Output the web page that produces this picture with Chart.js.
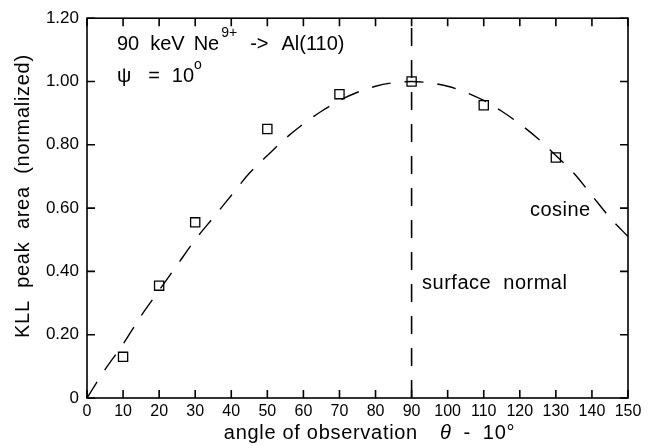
<!DOCTYPE html>
<html>
<head>
<meta charset="utf-8">
<script src="https://cdn.jsdelivr.net/npm/chart.js@4"></script>
<style>
  html, body { margin: 0; padding: 0; background: #fff; }
  #wrap { width: 653px; height: 446px; }
</style>
</head>
<body>
<div id="wrap"><canvas id="chart"></canvas></div>
<script>
// measured points
const angles = [10, 20, 30, 50, 70, 90, 110, 130];
const peakArea = [0.13, 0.355, 0.555, 0.85, 0.96, 1.00, 0.925, 0.76];

// dashed "cosine" curve
const curveAngles = [0, 5, 10, 15, 20, 25, 30, 35, 40, 45, 50, 55, 60, 65, 70, 75,
    80, 85, 90, 95, 100, 105, 110, 115, 120, 125, 130, 135, 140, 145, 150];
const curveValues = [0, 0.09, 0.17, 0.26, 0.34, 0.42, 0.50, 0.57, 0.64, 0.71, 0.766,
    0.82, 0.866, 0.906, 0.94, 0.966, 0.985, 0.996, 1.00, 0.996, 0.985, 0.966, 0.94,
    0.906, 0.866, 0.82, 0.766, 0.71, 0.64, 0.57, 0.51];

// surface normal line
const normalX = [90, 90];
const normalY = [0, 1.2];

const xTicks = [0, 10, 20, 30, 40, 50, 60, 70, 80, 90, 100, 110, 120, 130, 140, 150];
const yTicks = [0, 0.2, 0.4, 0.6, 0.8, 1.0, 1.2];
const yTickLabels = ["0", "0.20", "0.40", "0.60", "0.80", "1.00", "1.20"];

const FONT = "'Liberation Sans', Arial, Helvetica, sans-serif";

function toXY(xs, ys) {
    return xs.map((x, i) => ({ x: x, y: ys[i] }));
}

// draw pieces one after another, with a gap after each
function drawRun(ctx, parts, x, y) {
    parts.forEach(p => {
        ctx.font = p.font;
        ctx.fillText(p.text, x, y + (p.dy || 0));
        x += ctx.measureText(p.text).width + (p.gap || 0);
    });
    return x;
}

function runWidth(ctx, parts) {
    let w = 0;
    parts.forEach(p => {
        ctx.font = p.font;
        w += ctx.measureText(p.text).width + (p.gap || 0);
    });
    return w;
}

const frame = {
    id: "frame",
    afterDraw(chart) {
        const ctx = chart.ctx;
        const a = chart.chartArea;
        const xs = chart.scales.x;
        const ys = chart.scales.y;
        const len = 8;

        ctx.save();
        ctx.strokeStyle = "#000";
        ctx.lineWidth = 1.6;
        ctx.strokeRect(a.left, a.top, a.right - a.left, a.bottom - a.top);

        ctx.beginPath();
        xTicks.forEach(v => {
            const px = xs.getPixelForValue(v);
            ctx.moveTo(px, a.bottom);
            ctx.lineTo(px, a.bottom - len);
            ctx.moveTo(px, a.top);
            ctx.lineTo(px, a.top + len);
        });
        yTicks.forEach(v => {
            const py = ys.getPixelForValue(v);
            ctx.moveTo(a.left, py);
            ctx.lineTo(a.left + len, py);
            ctx.moveTo(a.right, py);
            ctx.lineTo(a.right - len, py);
        });
        ctx.stroke();

        ctx.fillStyle = "#000";
        ctx.textBaseline = "alphabetic";
        ctx.textAlign = "left";

        // annotations
        const big = "20px " + FONT;
        const sup = "14px " + FONT;
        const x0 = xs.getPixelForValue(8.3);
        drawRun(ctx, [
            { text: "90", font: big, gap: 11 },
            { text: "keV", font: big, gap: 9 },
            { text: "Ne", font: big, gap: 2 },
            { text: "9+", font: sup, dy: -13, gap: 13 },
            { text: "->", font: big, gap: 13 },
            { text: "Al(110)", font: big }
        ], x0, ys.getPixelForValue(1.098));

        drawRun(ctx, [
            { text: "\u03c8", font: big, gap: 17 },
            { text: "=", font: big, gap: 12 },
            { text: "10", font: big, gap: 0 },
            { text: "o", font: sup, dy: -13 }
        ], x0, ys.getPixelForValue(0.999));

        ctx.letterSpacing = "0.5px";
        ctx.font = big;
        ctx.fillText("cosine", xs.getPixelForValue(122.8), ys.getPixelForValue(0.575));
        ctx.fillText("surface  normal", xs.getPixelForValue(92.9), ys.getPixelForValue(0.343));

        // x axis title
        ctx.letterSpacing = "0.7px";
        const xt = [
            { text: "angle of observation", font: big, gap: 22 },
            { text: "\u03b8", font: "italic " + big, gap: 12 },
            { text: "-", font: big, gap: 12 },
            { text: "10\u00b0", font: big }
        ];
        const cx = (a.left + a.right) / 2 + 12;
        drawRun(ctx, xt, cx - runWidth(ctx, xt) / 2, 439);

        // y axis title
        ctx.translate(29, (a.top + a.bottom) / 2 - 12);
        ctx.rotate(-Math.PI / 2);
        ctx.textAlign = "center";
        ctx.font = big;
        ctx.fillText("KLL  peak  area  (normalized)", 0, 0);
        ctx.restore();
    }
};

new Chart(document.getElementById("chart"), {
    type: "scatter",
    data: {
        datasets: [
            {
                data: toXY(curveAngles, curveValues),
                showLine: true,
                borderColor: "#000",
                borderWidth: 1.4,
                borderDash: [19, 14],
                pointRadius: 0,
                cubicInterpolationMode: "monotone",
                fill: false
            },
            {
                data: toXY(normalX, normalY),
                showLine: true,
                borderColor: "#000",
                borderWidth: 1.6,
                borderDash: [18, 14],
                pointRadius: 0,
                fill: false
            },
            {
                data: toXY(angles, peakArea),
                showLine: false,
                pointStyle: "rect",
                pointRadius: 6.5,
                borderColor: "#000",
                borderWidth: 1.3,
                backgroundColor: "rgba(255,255,255,0)"
            }
        ]
    },
    options: {
        responsive: true,
        maintainAspectRatio: false,
        animation: false,
        layout: {
            padding: { left: 0, right: 25, top: 10, bottom: 0 }
        },
        plugins: {
            legend: { display: false },
            tooltip: { enabled: false }
        },
        scales: {
            x: {
                type: "linear",
                min: 0,
                max: 150,
                afterBuildTicks(scale) {
                    scale.ticks = xTicks.map(v => ({ value: v }));
                },
                afterFit(scale) {
                    scale.height = 48;
                },
                ticks: {
                    color: "#000",
                    font: { family: FONT, size: 16 },
                    padding: 4,
                    maxRotation: 0,
                    autoSkip: false
                },
                grid: { display: false, drawTicks: false },
                border: { display: false }
            },
            y: {
                type: "linear",
                min: 0,
                max: 1.2,
                afterBuildTicks(scale) {
                    scale.ticks = yTicks.map(v => ({ value: v }));
                },
                afterFit(scale) {
                    scale.width = 87;
                },
                ticks: {
                    color: "#000",
                    font: { family: FONT, size: 17 },
                    padding: 8,
                    autoSkip: false,
                    callback: (v, i) => yTickLabels[i]
                },
                grid: { display: false, drawTicks: false },
                border: { display: false }
            }
        }
    },
    plugins: [frame]
});
</script>
</body>
</html>
